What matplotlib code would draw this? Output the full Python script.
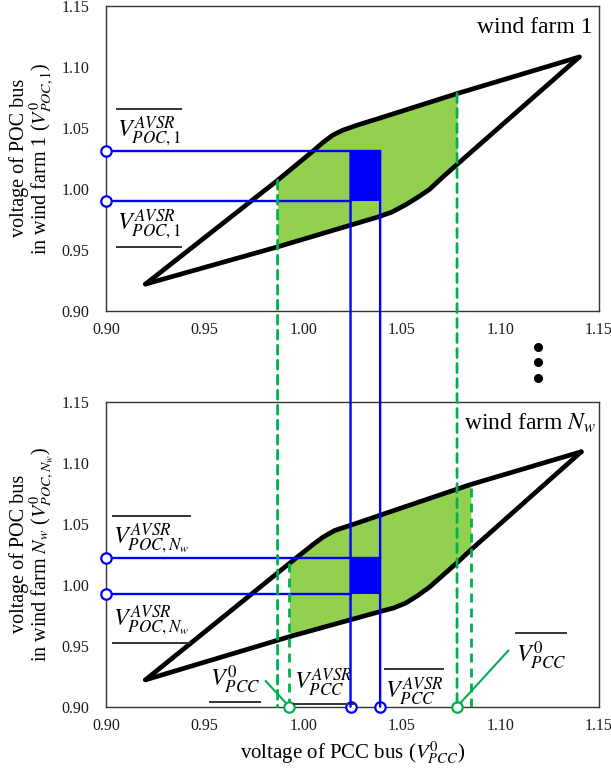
import numpy as np
import matplotlib
matplotlib.use("Agg")
import matplotlib.pyplot as plt
from matplotlib.patches import ConnectionPatch, Rectangle
from matplotlib.lines import Line2D

plt.rcParams['font.family'] = ['Liberation Serif', 'DejaVu Serif']
plt.rcParams['mathtext.fontset'] = 'stix'

# axis ticks (both panels share the same range)
ticks = [0.90, 0.95, 1.00, 1.05, 1.10, 1.15]
tick_labels = ['0.90', '0.95', '1.00', '1.05', '1.10', '1.15']

# wind farm 1: boundary of the feasible POC/PCC voltage region
f1_upper_x = [0.920, 0.987, 1.005, 1.010, 1.015, 1.020, 1.028, 1.038, 1.078, 1.140]
f1_upper_y = [0.922, 1.007, 1.031, 1.038, 1.044, 1.048, 1.0525, 1.0575, 1.078, 1.108]
f1_lower_x = [0.920, 0.987, 1.038, 1.045, 1.052, 1.058, 1.064, 1.071, 1.078, 1.140]
f1_lower_y = [0.922, 0.9525, 0.977, 0.981, 0.987, 0.993, 0.9995, 1.010, 1.020, 1.108]
f1_pcc_range = [0.987, 1.078]
f1_poc_avsr = [0.990, 1.031]

# wind farm N_w
fn_upper_x = [0.920, 0.993, 1.005, 1.010, 1.016, 1.0245, 1.039, 1.0846, 1.141]
fn_upper_y = [0.922, 1.0175, 1.033, 1.039, 1.0445, 1.049, 1.057, 1.082, 1.109]
fn_lower_x = [0.920, 0.993, 1.039, 1.046, 1.052, 1.058, 1.064, 1.0787, 1.0846, 1.141]
fn_lower_y = [0.922, 0.9574, 0.978, 0.981, 0.985, 0.991, 0.998, 1.019, 1.028, 1.109]
fn_pcc_range = [0.993, 1.085]
fn_poc_avsr = [0.992, 1.0216]

# PCC voltage range of the AVSR
pcc_avsr = [1.024, 1.039]
# common PCC range = intersection of the per-farm ranges
pcc0 = [max(f1_pcc_range[0], fn_pcc_range[0]), min(f1_pcc_range[1], fn_pcc_range[1])]

BLACK = '#000000'
BLUE = '#0000FF'
FILL = '#92D050'
DASH = '#00B050'
DASHSTYLE = (0, (3.2, 2.2))

fig = plt.figure(figsize=(6.11, 7.68), dpi=100)
ax1 = fig.add_axes([0.1735, 0.5951, 0.8069, 0.3975])
ax2 = fig.add_axes([0.1735, 0.0798, 0.8069, 0.3971])


def style_axes(ax):
    ax.set_xlim(0.90, 1.15)
    ax.set_ylim(0.90, 1.15)
    ax.set_xticks(ticks)
    ax.set_xticklabels(tick_labels)
    ax.set_yticks(ticks)
    ax.set_yticklabels(tick_labels)
    ax.tick_params(length=0, labelsize=11.5, colors='#1a1a1a')
    ax.tick_params(axis='y', pad=12)
    ax.tick_params(axis='x', pad=8)
    for sp in ax.spines.values():
        sp.set_linewidth(1.0)
        sp.set_color('#333333')


def draw_region(ax, ux, uy, lx, ly, rng, poc):
    xg = np.linspace(rng[0], rng[1], 300)
    ax.fill_between(xg, np.interp(xg, lx, ly), np.interp(xg, ux, uy),
                    color=FILL, lw=0, zorder=1)
    ax.plot(ux, uy, color=BLACK, lw=3.4, solid_joinstyle='round',
            solid_capstyle='round', zorder=3)
    ax.plot(lx, ly, color=BLACK, lw=3.4, solid_joinstyle='round',
            solid_capstyle='round', zorder=3)
    # blue AVSR box and guide lines
    ax.add_patch(Rectangle((pcc_avsr[0], poc[0]), pcc_avsr[1] - pcc_avsr[0],
                           poc[1] - poc[0], color=BLUE, lw=0, zorder=4))
    ax.plot([0.90, pcc_avsr[1]], [poc[1], poc[1]], color=BLUE, lw=1.7, zorder=5)
    ax.plot([0.90, pcc_avsr[0]], [poc[0], poc[0]], color=BLUE, lw=1.7, zorder=5)
    ax.plot([0.90, 0.90], poc, ls='none', marker='o', ms=7.5, mfc='white',
            mec=BLUE, mew=1.6, clip_on=False, zorder=8)


style_axes(ax1)
style_axes(ax2)
draw_region(ax1, f1_upper_x, f1_upper_y, f1_lower_x, f1_lower_y, f1_pcc_range, f1_poc_avsr)
draw_region(ax2, fn_upper_x, fn_upper_y, fn_lower_x, fn_lower_y, fn_pcc_range, fn_poc_avsr)

# farm N_w range limits (stay inside the lower panel)
for xv in fn_pcc_range:
    ax2.plot([xv, xv], [0.90, np.interp(xv, fn_upper_x, fn_upper_y)], color=DASH,
             lw=2.0, ls=DASHSTYLE, zorder=5)

# farm 1 range limits run down through both panels
for xv in f1_pcc_range:
    con = ConnectionPatch(xyA=(xv, np.interp(xv, f1_upper_x, f1_upper_y)), coordsA=ax1.transData,
                          xyB=(xv, 0.90), coordsB=ax2.transData,
                          color=DASH, lw=2.0, ls=DASHSTYLE, zorder=5)
    fig.add_artist(con)

# AVSR PCC limits run from the upper box down to the lower axis
for xv in pcc_avsr:
    con = ConnectionPatch(xyA=(xv, f1_poc_avsr[1]), coordsA=ax1.transData,
                          xyB=(xv, 0.90), coordsB=ax2.transData,
                          color=BLUE, lw=1.7, zorder=6)
    fig.add_artist(con)

ax2.plot(pcc_avsr, [0.90, 0.90], ls='none', marker='o', ms=7.5, mfc='white',
         mec=BLUE, mew=1.6, clip_on=False, zorder=9)

# common PCC range markers with leader lines
ax2.plot([pcc0[0], 0.981], [0.90, 0.921], color=DASH, lw=1.5, zorder=7, clip_on=False)
ax2.plot([pcc0[1], 1.104], [0.90, 0.946], color=DASH, lw=1.5, zorder=7, clip_on=False)
ax2.plot(pcc0, [0.90, 0.90], ls='none', marker='o', ms=7.5, mfc='white',
         mec=DASH, mew=1.6, clip_on=False, zorder=9)

# panel titles
ax1.text(1.1466, 1.132, 'wind farm 1', ha='right', va='center', fontsize=17)
ax2.text(1.1487, 1.132, 'wind farm $N_w$', ha='right', va='center', fontsize=17)

# axis labels
ax1.set_ylabel('voltage of POC bus\nin wind farm 1 ($V^0_{POC,1}$)', fontsize=14.5,
               linespacing=0.95, labelpad=3)
ax2.set_ylabel('voltage of POC bus\nin wind farm $N_w$ ($V^0_{POC,N_w}$)', fontsize=14.5,
               linespacing=0.95, labelpad=3)
ax2.set_xlabel('voltage of PCC bus ($V^0_{PCC}$)', fontsize=15, labelpad=4)

# bounded symbols: text plus an over/under bar sized to the text
bounded = [
    (ax1, 0.9054, 1.047, r'$V^{AVSR}_{POC,1}$', 'over'),
    (ax1, 0.9054, 0.971, r'$V^{AVSR}_{POC,1}$', 'under'),
    (ax2, 0.9037, 1.038, r'$V^{AVSR}_{POC,N_w}$', 'over'),
    (ax2, 0.9037, 0.971, r'$V^{AVSR}_{POC,N_w}$', 'under'),
    (ax2, 0.9526, 0.922, r'$V^{0}_{PCC}$', 'under'),
    (ax2, 0.9955, 0.920, r'$V^{AVSR}_{PCC}$', 'under'),
    (ax2, 1.0413, 0.913, r'$V^{AVSR}_{PCC}$', 'over'),
    (ax2, 1.1078, 0.942, r'$V^{0}_{PCC}$', 'over'),
]
texts = []
for ax, x, y, s, kind in bounded:
    t = ax.text(x, y, s, ha='left', va='center', fontsize=17.5, zorder=10)
    texts.append((t, kind))

fig.canvas.draw()
inv = fig.transFigure.inverted()
for t, kind in texts:
    bb = t.get_window_extent()
    yb = bb.y1 + 6 if kind == 'over' else bb.y0 - 6
    (x0, yf), (x1, _) = inv.transform([(bb.x0, yb), (bb.x1, yb)])
    fig.add_artist(Line2D([x0, x1], [yf, yf], color='#333333', lw=1.4))

# vertical ellipsis between the panels
fig.add_artist(Line2D([538 / 611] * 3, [1 - 347 / 768, 1 - 362 / 768, 1 - 378 / 768],
                      ls='none', marker='o', ms=5.5, color=BLACK))

fig.savefig('out.png', dpi=100)
